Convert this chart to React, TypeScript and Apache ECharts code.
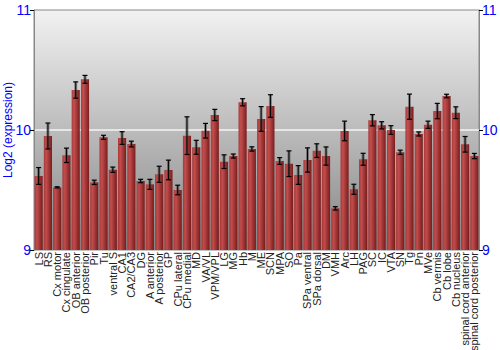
import React, { useEffect, useRef } from "react";
import * as echarts from "echarts";

const categories = [
  "LS", "RS", "Cx motor", "Cx cingulate", "OB anterior", "OB posterior", "Pir", "Tu",
  "ventral S", "CA1", "CA2/CA3", "DG", "A anterior", "A posterior", "GP", "CPu lateral",
  "CPu medial", "MD", "VA/VL", "VPM/VPL", "LG", "MG", "Hb", "M", "ME", "SCN", "MPA",
  "SO", "Pa", "SPa ventral", "SPa dorsal", "DM", "VMH", "Arc", "LH", "PAG", "SC", "IC",
  "VTA", "SN", "Tg", "Pn", "MVe", "Cb vermis", "Cb lobe", "Cb nucleus",
  "spinal cord anterior", "spinal cord posterior",
];

const values = [
  9.617, 9.95, 9.522, 9.789, 10.333, 10.422, 9.564, 9.939,
  9.669, 9.933, 9.883, 9.575, 9.547, 9.631, 9.667, 9.5,
  9.953, 9.856, 9.994, 10.125, 9.736, 9.783, 10.231, 9.842, 10.092, 10.2, 9.742,
  9.719, 9.625, 9.75, 9.828, 9.783, 9.347, 9.992, 9.506, 9.756, 10.081, 10.039,
  10.0, 9.814, 10.194, 9.967, 10.044, 10.158, 10.283, 10.144,
  9.881, 9.783,
];

const errors = [
  0.07, 0.108, 0.005, 0.06, 0.068, 0.033, 0.018, 0.017,
  0.022, 0.053, 0.024, 0.014, 0.042, 0.067, 0.082, 0.04,
  0.157, 0.058, 0.061, 0.047, 0.057, 0.017, 0.03, 0.018, 0.103, 0.094, 0.028,
  0.107, 0.078, 0.101, 0.057, 0.076, 0.014, 0.082, 0.042, 0.05, 0.047, 0.03,
  0.036, 0.018, 0.105, 0.017, 0.03, 0.064, 0.015, 0.049,
  0.065, 0.022,
];

const yTicks = [9, 10, 11];

export default function App() {
  const ref = useRef<HTMLDivElement>(null);
  useEffect(() => {
    if (!ref.current) return;
    const chart = echarts.init(ref.current, undefined, { renderer: "svg" });
    const errData = values.map((v, i) => [i, v - errors[i], v + errors[i]]);
    const yAxisBase = {
      type: "value",
      min: yTicks[0],
      max: yTicks[yTicks.length - 1],
      interval: 1,
      axisLine: { show: true, lineStyle: { color: "#888888", width: 1 } },
      axisTick: { show: true, length: 4, lineStyle: { color: "#000000" } },
      axisLabel: { color: "#0000ff", fontSize: 14, fontFamily: "Liberation Sans, Arial, sans-serif", margin: 3 },
    };
    chart.setOption({
      animation: false,
      grid: {
        left: 34,
        right: 21,
        top: 10,
        bottom: 100,
        containLabel: false,
        outerBoundsMode: "none",
        show: true,
        borderColor: "#888888",
        borderWidth: 1,
        backgroundColor: new echarts.graphic.LinearGradient(0, 0, 0, 1, [
          { offset: 0, color: "#f2f2f2" },
          { offset: 1, color: "#858585" },
        ]),
      },
      xAxis: {
        type: "category",
        data: categories,
        axisLine: { show: false },
        axisTick: { show: false },
        axisLabel: {
          rotate: 90,
          interval: 0,
          fontSize: 11,
          color: "#222222",
          margin: 2,
          fontFamily: "Liberation Sans, Arial, sans-serif",
        },
      },
      yAxis: [
        {
          ...yAxisBase,
          position: "left",
          name: "Log2 (expression)",
          nameLocation: "middle",
          nameRotate: 90,
          nameGap: 20,
          nameMoveOverlap: false,
          nameTextStyle: { color: "#0000ff", fontSize: 12, fontFamily: "Liberation Sans, Arial, sans-serif" },
          splitLine: {
            show: true,
            lineStyle: { color: ["transparent", "#f4f4f4", "transparent"], width: 1.5 },
          },
        },
        {
          ...yAxisBase,
          position: "right",
          splitLine: { show: false },
        },
      ],
      series: [
        {
          type: "bar",
          data: values,
          barCategoryGap: "12%",
          itemStyle: {
            color: new echarts.graphic.LinearGradient(0, 0, 1, 0, [
              { offset: 0, color: "#a83434" },
              { offset: 0.3, color: "#c44848" },
              { offset: 1, color: "#751515" },
            ]),
            opacity: 0.95,
          },
        },
        {
          type: "custom",
          data: errData,
          z: 5,
          renderItem: (params: any, api: any) => {
            const x = api.value(0);
            const lo = api.coord([x, api.value(1)]);
            const hi = api.coord([x, api.value(2)]);
            const cx = lo[0];
            const cap = 2.5;
            return {
              type: "group",
              children: [
                {
                  type: "line",
                  shape: { x1: cx, y1: lo[1], x2: cx, y2: hi[1] },
                  style: { stroke: "rgba(60,60,60,0.5)", lineWidth: 3 },
                },
                {
                  type: "line",
                  shape: { x1: cx, y1: lo[1], x2: cx, y2: hi[1] },
                  style: { stroke: "#000000", lineWidth: 1 },
                },
                {
                  type: "line",
                  shape: { x1: cx - cap, y1: lo[1], x2: cx + cap, y2: lo[1] },
                  style: { stroke: "#000000", lineWidth: 1.2 },
                },
                {
                  type: "line",
                  shape: { x1: cx - cap, y1: hi[1], x2: cx + cap, y2: hi[1] },
                  style: { stroke: "#000000", lineWidth: 1.2 },
                },
              ],
            };
          },
        },
      ],
    });
    return () => chart.dispose();
  }, []);
  return <div ref={ref} style={{ width: 500, height: 350, position: "absolute", left: 0, top: 0 }} />;
}
